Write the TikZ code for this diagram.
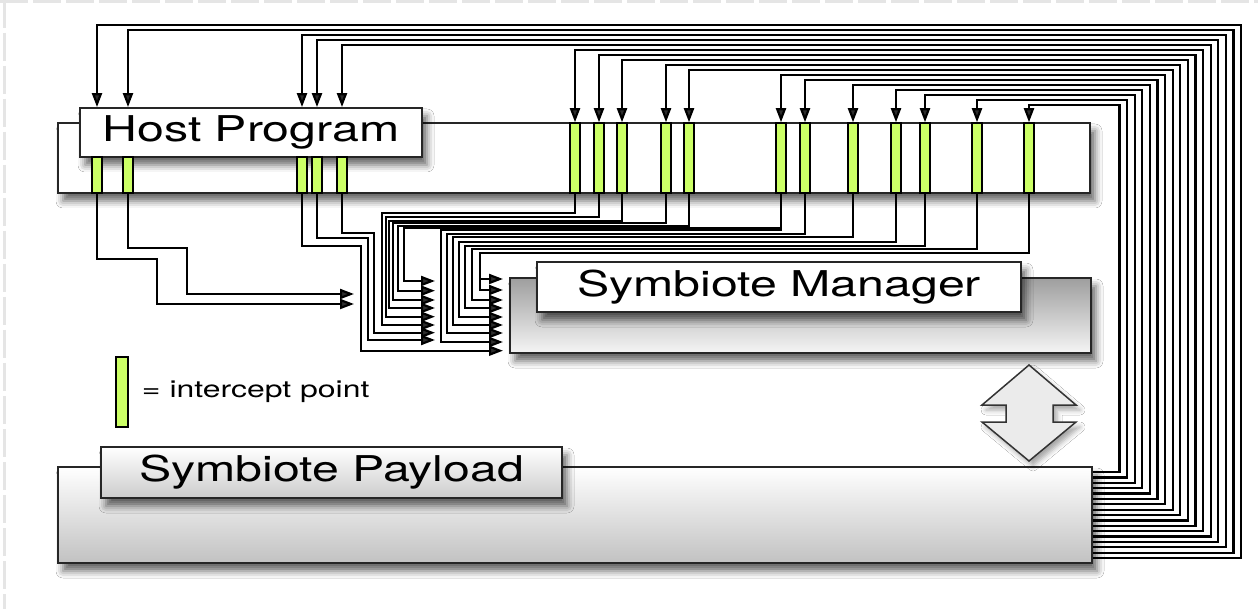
\documentclass[tikz,border=0pt]{standalone}
\usepackage{fontspec}
\setmainfont{TeX Gyre Heros}
\usepackage{graphicx}
\usetikzlibrary{arrows.meta, shadows.blur}

\definecolor{ipgreen}{RGB}{204,255,102}
\newcommand{\stretched}[1]{\scalebox{1.36}[1]{#1}}

\begin{document}
\begin{tikzpicture}[x=1pt, y=-1pt, >={Triangle[length=14pt, width=10pt]},
  every node/.style={inner sep=0pt},
  wire/.style={line width=2.2pt},
  panel/.style={draw=black!85, line width=1.8pt,
    blur shadow={shadow xshift=5pt, shadow yshift=-8pt, shadow blur radius=7pt, shadow opacity=60}},
  tag/.style={panel, font=\fontsize{35.5}{40}\selectfont},
  ipoint/.style={draw=black, line width=1.5pt, fill=ipgreen, minimum width=10pt}]
  \fill[white] (0,0) rectangle (1258,609);
  \useasboundingbox (0,0) rectangle (1258,609);
  \draw[black!10, line width=3pt, dash pattern=on 28pt off 5pt] (0,1.5) -- (1258,1.5);
  \draw[black!10, line width=3pt, dash pattern=on 28pt off 5pt] (4,0) -- (4,609);

  % boxes
  \node[panel, fill=white, minimum width=1032pt, minimum height=70pt] (host) at (574,158) {};
  \node[tag, fill=white, minimum width=342pt, minimum height=49pt] (hostlabel) at (251,132.5) {\stretched{Host Program}};
  \node[panel, top color=black!38, bottom color=black!4, minimum width=581pt, minimum height=75pt] (manager) at (800.5,315.5) {};
  \node[tag, fill=white, minimum width=484pt, minimum height=50pt] (managerlabel) at (779,287) {\stretched{Symbiote Manager}};
  \node[panel, top color=white, bottom color=black!24, minimum width=1034pt, minimum height=96pt] (payload) at (575,515) {};
  \node[tag, top color=white, bottom color=black!20, minimum width=461pt, minimum height=51pt] (payloadlabel) at (331.5,472.5) {\stretched{Symbiote Payload}};

  % manager <-> payload
  \draw[fill=black!8, draw=black!80, line width=1.5pt,
    blur shadow={shadow xshift=4pt, shadow yshift=-5pt, shadow blur radius=5pt, shadow opacity=35}]
    (1029,365) -- (1076,405) -- (1053,405) -- (1053,422) -- (1076,422) -- (1029,461)
    -- (982,422) -- (1006,422) -- (1006,405) -- (982,405) -- cycle;

  % intercept points
  \foreach \x [count=\i] in {97,128,302,317,342}
    \node[ipoint, minimum height=36pt] (ip\i) at (\x,175) {};
  \foreach \x [count=\i from 6] in {575,599,622,666,689,781,805,853,896,925,977,1029}
    \node[ipoint, minimum height=70pt] (ip\i) at (\x,158) {};

  % payload -> intercept points
  \foreach \i in {1,...,17} {
    \pgfmathsetmacro\ytop{20+5*\i}
    \pgfmathsetmacro\xv{1248.6-7.6*\i}
    \pgfmathsetmacro\ybot{563.4-5.375*\i}
    \ifnum\i<6 \coordinate (in\i) at (ip\i |- hostlabel.north);
    \else \coordinate (in\i) at (ip\i.north); \fi
    \draw[wire, ->] (payload.east |- 0,\ybot) -| (\xv,\ytop) -| (in\i);
  }

  % intercept points -> manager
  \foreach \i/\yh/\xv/\ya/\tip in {1/259/157/304/354, 2/248/187/294/354,
      3/245.7/361/350.7/503, 4/238/368/340/435, 5/233/374/332.7/435,
      6/213/381.7/325/435, 7/217/386/316.7/435, 8/220.7/389/308/435,
      9/223/393/300/435, 10/225.7/398/290.7/435, 11/227.7/404/281/435,
      12/234/446.7/333/503, 13/237/452.7/325/503, 14/242/459/317/503,
      15/246/465/308/503, 16/249/472/300/503, 17/253/480/290/503} {
    \coordinate (out\i) at (\tip,\ya);
    \draw[wire, ->] (ip\i.south) |- (\xv,\yh) |- (out\i);
  }
  \coordinate (out18) at (503,342);
  \draw[wire, ->] (ip11.south) |- (440.7,230) |- (out18);
  \coordinate (tap17) at (480,279);
  \coordinate (out19) at (503,279);
  \draw[wire, ->] (tap17) -- (out19);

  % legend
  \node[ipoint, minimum width=12pt, minimum height=70pt] (legendbar) at (122,392) {};
  \node[anchor=west, font=\fontsize{23.5}{28}\selectfont] (legendtext) at ([xshift=13pt]legendbar.east) {\stretched{= intercept point}};
\end{tikzpicture}
\end{document}
